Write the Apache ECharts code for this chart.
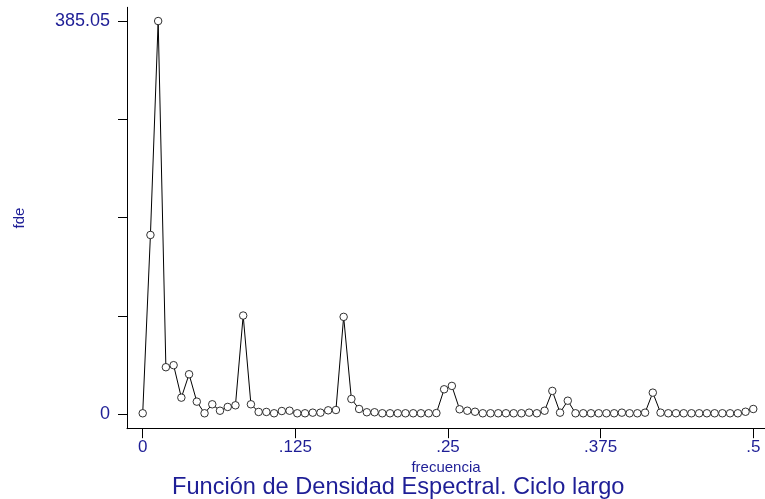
<!DOCTYPE html>
<html>
<head>
<meta charset="utf-8">
<script src="https://cdn.jsdelivr.net/npm/echarts@6/dist/echarts.min.js"></script>
<style>
  html, body { margin: 0; padding: 0; background: #ffffff; }
  #chart { width: 765px; height: 499px; }
</style>
</head>
<body>
<div id="chart"></div>
<script>
// Periodogram estimate (spectral density) of the long-cycle component.
// One value per Fourier frequency k / nObs, k = 0 .. nObs/2.
const nObs = 158;
const fde = [
  1.0, 175.6, 385.05, 46.1, 48.1, 16.3, 39.2, 12.4, 1.0, 9.8,
  3.5, 7.2, 8.8, 96.7, 9.8, 2.3, 2.3, 1.0, 3.2, 3.5,
  1.0, 1.0, 1.6, 1.6, 3.9, 4.2, 95.4, 15.0, 5.2, 2.0,
  2.0, 1.0, 1.0, 1.0, 1.0, 1.0, 1.0, 1.0, 1.2, 24.5,
  27.8, 4.9, 3.5, 2.5, 1.0, 1.0, 1.0, 1.0, 1.0, 1.0,
  1.6, 1.0, 3.5, 22.9, 1.6, 13.3, 1.0, 1.0, 1.0, 1.0,
  1.0, 1.0, 1.6, 1.0, 1.0, 1.6, 21.2, 1.6, 1.0, 1.0,
  1.0, 1.0, 1.0, 1.0, 1.0, 1.0, 1.0, 1.0, 2.5, 5.2
];
const frecuencia = fde.map((_, k) => k / nObs);

// Axis ticks and labels
const xTicks = [0, 0.125, 0.25, 0.375, 0.5];
const xTickLabels = ['0', '.125', '.25', '.375', '.5'];
const yTicks = [0, 96.2625, 192.525, 288.7875, 385.05];
const yLabelValues = [0, 385.05];
const yLabelTexts = { 0: '0', 385.05: '385.05' };

const labelColor = '#1e1e96';
const fontFamily = '"Liberation Sans", Arial, sans-serif';

const chart = echarts.init(document.getElementById('chart'), null, { renderer: 'canvas' });

chart.setOption({
  animation: false,
  backgroundColor: '#ffffff',
  title: {
    text: 'Función de Densidad Espectral. Ciclo largo',
    left: 167,
    top: 470,
    textStyle: { color: labelColor, fontFamily: fontFamily, fontSize: 23.6, fontWeight: 'normal' }
  },
  grid: { left: 127, right: 0, top: 7.3, bottom: 70.3 },
  xAxis: {
    type: 'value',
    min: -0.01286,
    max: 0.5096,
    name: 'frecuencia',
    nameLocation: 'middle',
    nameGap: 25,
    nameTextStyle: { color: labelColor, fontFamily: fontFamily, fontSize: 15 },
    splitLine: { show: false },
    axisLine: { show: true, onZero: false, lineStyle: { color: '#000', width: 1 } },
    axisTick: { show: true, length: 9.5, customValues: xTicks, lineStyle: { color: '#000' } },
    axisLabel: {
      customValues: xTicks,
      margin: 10,
      color: labelColor,
      fontFamily: fontFamily,
      fontSize: 17,
      formatter: v => xTickLabels[xTicks.findIndex(t => Math.abs(t - v) < 1e-9)] ?? ''
    }
  },
  yAxis: {
    type: 'value',
    min: -14.1,
    max: 398.5,
    name: 'fde',
    nameLocation: 'middle',
    nameRotate: 90,
    nameGap: 100,
    nameTextStyle: { color: labelColor, fontFamily: fontFamily, fontSize: 15 },
    splitLine: { show: false },
    axisLine: { show: true, onZero: false, lineStyle: { color: '#000', width: 1 } },
    axisTick: { show: true, length: 9, customValues: yTicks, lineStyle: { color: '#000' } },
    axisLabel: {
      customValues: yLabelValues,
      margin: 17,
      color: labelColor,
      fontFamily: fontFamily,
      fontSize: 18,
      formatter: v => yLabelTexts[v] ?? ''
    }
  },
  series: [{
    type: 'line',
    data: frecuencia.map((f, i) => [f, fde[i]]),
    symbol: 'circle',
    symbolSize: 7.5,
    showSymbol: true,
    lineStyle: { color: '#000', width: 1 },
    itemStyle: { color: '#fff', borderColor: '#1a1a1a', borderWidth: 0.9 },
    emphasis: { disabled: true }
  }]
});
</script>
</body>
</html>
